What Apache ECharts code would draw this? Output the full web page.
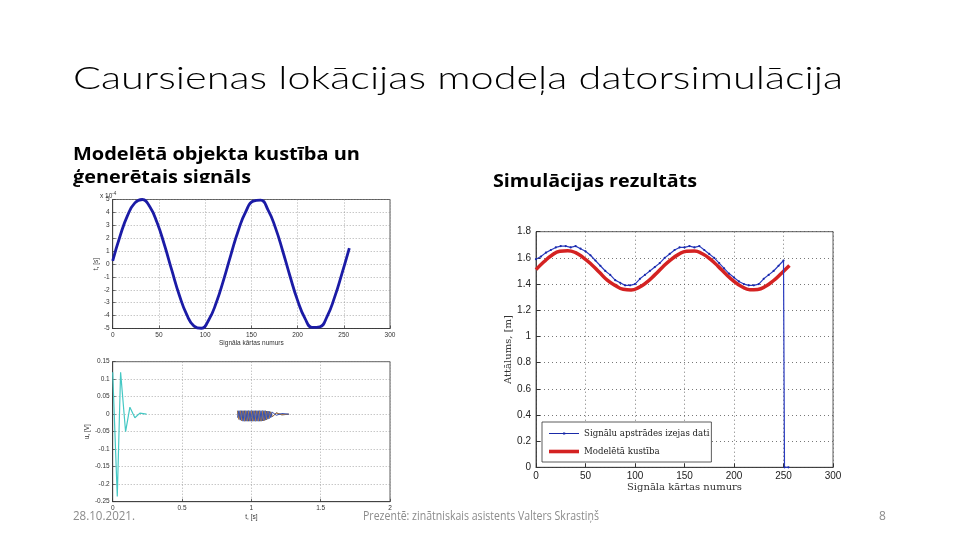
<!DOCTYPE html>
<html><head><meta charset="utf-8">
<script src="https://cdn.jsdelivr.net/npm/echarts@6/dist/echarts.min.js"></script>
<style>html,body{margin:0;padding:0;background:#fff}#c{width:960px;height:540px}</style>
</head><body><div id="c"></div>
<script>
// ---------- Data ----------
// Top-left: generated signal (x 10^-4)
const sampleIdx = [0,8,16,24,32,40,48,56,64,72,80,88,96,104,112,120,128,136,144,152,160,168,176,184,192,200,208,216,224,232,240,248,256];
const signalVals = [0.25,2.17,3.75,4.74,5.0,4.45,3.21,1.47,-0.5,-2.4,-3.91,-4.81,-4.98,-4.32,-3.01,-1.23,0.75,2.62,4.06,4.87,4.95,4.2,2.82,0.99,-0.99,-2.82,-4.21,-4.92,-4.87,-4.06,-2.59,-0.74,1.24];
// Right: modelled motion (red)
const modelVals = [1.51,1.57,1.62,1.65,1.655,1.64,1.60,1.55,1.49,1.43,1.39,1.36,1.355,1.375,1.415,1.47,1.53,1.585,1.627,1.651,1.653,1.631,1.59,1.535,1.475,1.42,1.379,1.357,1.359,1.383,1.427,1.483,1.542];
// Right: signal processing output (blue dotted)
const outIdx = [0,5,10,15,20,25,30,35,40,45,50,55,60,65,70,75,80,85,90,95,100,105,110,115,120,125,130,135,140,145,150,155,160,165,170,175,180,185,190,195,200,205,210,215,220,225,230,235,240,245,250,251,255];
const outVals = [1.59,1.61,1.64,1.66,1.68,1.69,1.69,1.68,1.69,1.67,1.65,1.62,1.58,1.54,1.50,1.47,1.43,1.41,1.39,1.39,1.40,1.44,1.47,1.50,1.53,1.56,1.60,1.63,1.66,1.68,1.68,1.69,1.68,1.69,1.66,1.63,1.60,1.56,1.52,1.48,1.45,1.42,1.40,1.39,1.39,1.40,1.44,1.47,1.50,1.54,1.58,0,0];
// Bottom-left: pulse response (cyan)
const pulseT = [0,0.012,0.033,0.057,0.07,0.093,0.124,0.16,0.196,0.244];
const pulseV = [0.12,0.12,-0.235,0.12,0.12,-0.05,0.02,-0.01,0.003,0];
// Bottom-left: echo blob (three overlapping traces)
const blobT = [0.90,0.91,0.92,0.93,0.94,0.95,0.96,0.97,0.98,0.99,1.00,1.01,1.02,1.03,1.04,1.05,1.06,1.07,1.08,1.09,1.10,1.11,1.12,1.13,1.14,1.15,1.18,1.22,1.27];
const blobGray = [0.010,-0.012,0.010,-0.018,0.010,-0.020,0.010,-0.020,0.010,-0.020,0.010,-0.020,0.010,-0.020,0.010,-0.020,0.010,-0.020,0.010,-0.019,0.010,-0.016,0.009,-0.012,0.007,-0.008,0.004,-0.002,0];
const blobBlue = [-0.010,0.010,-0.017,0.010,-0.020,0.010,-0.020,0.010,-0.020,0.010,-0.020,0.010,-0.020,0.010,-0.020,0.010,-0.020,0.010,-0.019,0.010,-0.017,0.009,-0.014,0.008,-0.010,0.006,-0.003,0.002,0];
const blobOrange = [0.008,-0.015,0.009,-0.019,0.008,-0.019,0.009,-0.019,0.008,-0.019,0.009,-0.019,0.008,-0.019,0.009,-0.019,0.008,-0.019,0.009,-0.018,0.008,-0.015,0.007,-0.011,0.005,-0.007,0.003,-0.001,0];

// Text
const titleText = 'Caursienas lokācijas modeļa datorsimulācija';
const sub1a = 'Modelētā objekta kustība un';
const sub1b = 'ģenerētais signāls';
const sub2 = 'Simulācijas rezultāts';
const footDate = '28.10.2021.';
const footMid = 'Prezentē: zinātniskais asistents Valters Skrastiņš';
const footNum = '8';
const legendNames = ['Signālu apstrādes izejas dati', 'Modelētā kustība'];

// ---------- helpers ----------
const zip = (a, b) => a.map((v, i) => [v, b[i]]);
const mctx = document.createElement('canvas').getContext('2d');
function fitScale(text, font, w) { mctx.font = font; return w / mctx.measureText(text).width; }
// y given as the wanted baseline
function txt(text, x, baseline, size, weight, family, color, width, z) {
  const font = weight + ' ' + size + 'px ' + family;
  const sx = width ? fitScale(text, font, width) : 1;
  return { type: 'text', x: x, y: baseline - 0.82 * size, scaleX: sx, z: z || 0,
    style: { text: text, fontSize: size, fontWeight: weight, fontFamily: family, fill: color } };
}

const smallAxisLabel = { fontSize: 6.5, color: '#333', fontFamily: 'Liberation Sans', margin: 3 };
const grayDot = { type: [1, 2], color: '#8a8a8a', width: 0.7 };
function matAxis(extra) {
  return Object.assign({
    type: 'value',
    axisLine: { show: true, onZero: false, lineStyle: { color: '#333', width: 0.8 } },
    axisTick: { show: true, inside: true, length: 3, lineStyle: { color: '#333', width: 0.7 } },
    splitLine: { show: true, lineStyle: grayDot },
    axisLabel: smallAxisLabel,
    nameLocation: 'middle',
    nameTextStyle: { fontSize: 6.5, color: '#333', fontFamily: 'Liberation Sans' }
  }, extra);
}

const chart = echarts.init(document.getElementById('c'), null, { renderer: 'canvas' });
const option = {
  animation: false,
  backgroundColor: '#fff',
  grid: [
    { left: 112.7, right: 570, top: 199.5, bottom: 211.5, show: true, borderColor: '#333', borderWidth: 0.8 },
    { left: 112.7, right: 570, top: 361.7, bottom: 38.3, show: true, borderColor: '#333', borderWidth: 0.8 },
    { left: 536, right: 127, top: 231.7, bottom: 72.7, show: true, borderColor: '#333', borderWidth: 0.8 }
  ],
  xAxis: [
    matAxis({ gridIndex: 0, min: 0, max: 300, interval: 50, name: 'Signāla kārtas numurs', nameGap: 11 }),
    matAxis({ gridIndex: 1, min: 0, max: 2, interval: 0.5, name: 't, [s]', nameGap: 12 }),
    matAxis({ gridIndex: 2, min: 0, max: 300, interval: 50, name: 'Signāla kārtas numurs', nameGap: 15,
      axisLabel: { fontSize: 10, color: '#222', fontFamily: 'Liberation Sans', margin: 4 },
      splitLine: { show: true, lineStyle: { type: [1, 3], color: '#555', width: 0.8 } },
      axisTick: { show: true, inside: true, length: 4, lineStyle: { color: '#333' } },
      nameTextStyle: { fontSize: 10, color: '#333', fontFamily: 'DejaVu Serif' } })
  ],
  yAxis: [
    matAxis({ gridIndex: 0, min: -5, max: 5, interval: 1, name: 't, [s]', nameGap: 10 }),
    matAxis({ gridIndex: 1, min: -0.25, max: 0.15, interval: 0.05, name: 'u, [V]', nameGap: 20 }),
    matAxis({ gridIndex: 2, min: 0, max: 1.8, interval: 0.2, name: 'Attālums, [m]', nameGap: 22,
      axisLabel: { fontSize: 10, color: '#222', fontFamily: 'Liberation Sans', margin: 5 },
      splitLine: { show: true, lineStyle: { type: [1, 3], color: '#555', width: 0.8 } },
      axisTick: { show: true, inside: true, length: 4, lineStyle: { color: '#333' } },
      nameTextStyle: { fontSize: 10, color: '#333', fontFamily: 'DejaVu Serif' } })
  ],
  legend: {
    data: [
      { name: legendNames[0], icon: 'path://M0,3.6 L30,3.6 L30,4.4 L0,4.4 Z M14,2.9 L16.2,2.9 L16.2,5.1 L14,5.1 Z' },
      { name: legendNames[1], icon: 'path://M0,0 L30,0 L30,3.6 L0,3.6 Z' }
    ],
    orient: 'vertical', left: 542, top: 422,
    padding: [7, 2, 6, 7], itemGap: 9, itemWidth: 30, itemHeight: 8, symbolKeepAspect: true,
    backgroundColor: '#fff', borderColor: '#333', borderWidth: 0.8, borderRadius: 0,
    textStyle: { fontFamily: 'DejaVu Serif', fontSize: 8.6, color: '#222' }
  },
  series: [
    { type: 'line', xAxisIndex: 0, yAxisIndex: 0, data: zip(sampleIdx, signalVals), smooth: 0.5, showSymbol: false,
      lineStyle: { color: '#1b1ba6', width: 2.8 }, itemStyle: { color: '#1b1ba6' } },
    { type: 'line', xAxisIndex: 1, yAxisIndex: 1, data: zip(pulseT, pulseV), showSymbol: false,
      lineStyle: { color: '#45c8c4', width: 1.2 } },
    { type: 'line', xAxisIndex: 1, yAxisIndex: 1, data: zip(blobT, blobGray), showSymbol: false,
      lineStyle: { color: '#4a4a4a', width: 1 } },
    { type: 'line', xAxisIndex: 1, yAxisIndex: 1, data: zip(blobT, blobOrange), showSymbol: false,
      lineStyle: { color: '#b07a48', width: 1 } },
    { type: 'line', xAxisIndex: 1, yAxisIndex: 1, data: zip(blobT, blobBlue), showSymbol: false,
      lineStyle: { color: '#3550b0', width: 1 } },
    { name: legendNames[1], type: 'line', xAxisIndex: 2, yAxisIndex: 2, data: zip(sampleIdx, modelVals), smooth: 0.5, symbol: 'none',
      lineStyle: { color: '#d42222', width: 3.5 }, itemStyle: { color: '#d42222' } },
    { name: legendNames[0], type: 'line', xAxisIndex: 2, yAxisIndex: 2, data: zip(outIdx, outVals), symbol: 'circle', symbolSize: 2.2,
      lineStyle: { color: '#2a3bbf', width: 1.2 }, itemStyle: { color: '#1a2aa8' } }
  ],
  graphic: [
    txt(titleText, 73, 89, 31, 300, 'Lato', '#000', 770, -5),
    txt(sub1a, 73, 161, 17, 700, 'Open Sans', '#000', 287, -5),
    txt(sub1b, 73, 184, 17, 700, 'Open Sans', '#000', 178, -5),
    txt(sub2, 493, 188, 17, 700, 'Open Sans', '#000', 204, -5),
    { type: 'rect', z: -4, shape: { x: 80, y: 183, width: 320, height: 160 }, style: { fill: '#fff' } },
    { type: 'text', x: 100, y: 196, z: 5, style: { text: '{a|x 10}{b|-4}', verticalAlign: 'middle',
        rich: { a: { fontSize: 6.5, fill: '#333', fontFamily: 'Liberation Sans' }, b: { fontSize: 4.5, fill: '#333', verticalAlign: 'top', padding: [0, 0, 5, 0], fontFamily: 'Liberation Sans' } } } },
    txt(footDate, 73, 520, 12, 400, 'Open Sans', '#8b8b8b', 62, 10),
    txt(footMid, 363, 520, 12, 400, 'Open Sans', '#8b8b8b', 236, 10),
    txt(footNum, 879, 520, 12, 400, 'Open Sans', '#8b8b8b', 0, 10)
  ]
};
chart.setOption(option);
</script>
</body></html>
